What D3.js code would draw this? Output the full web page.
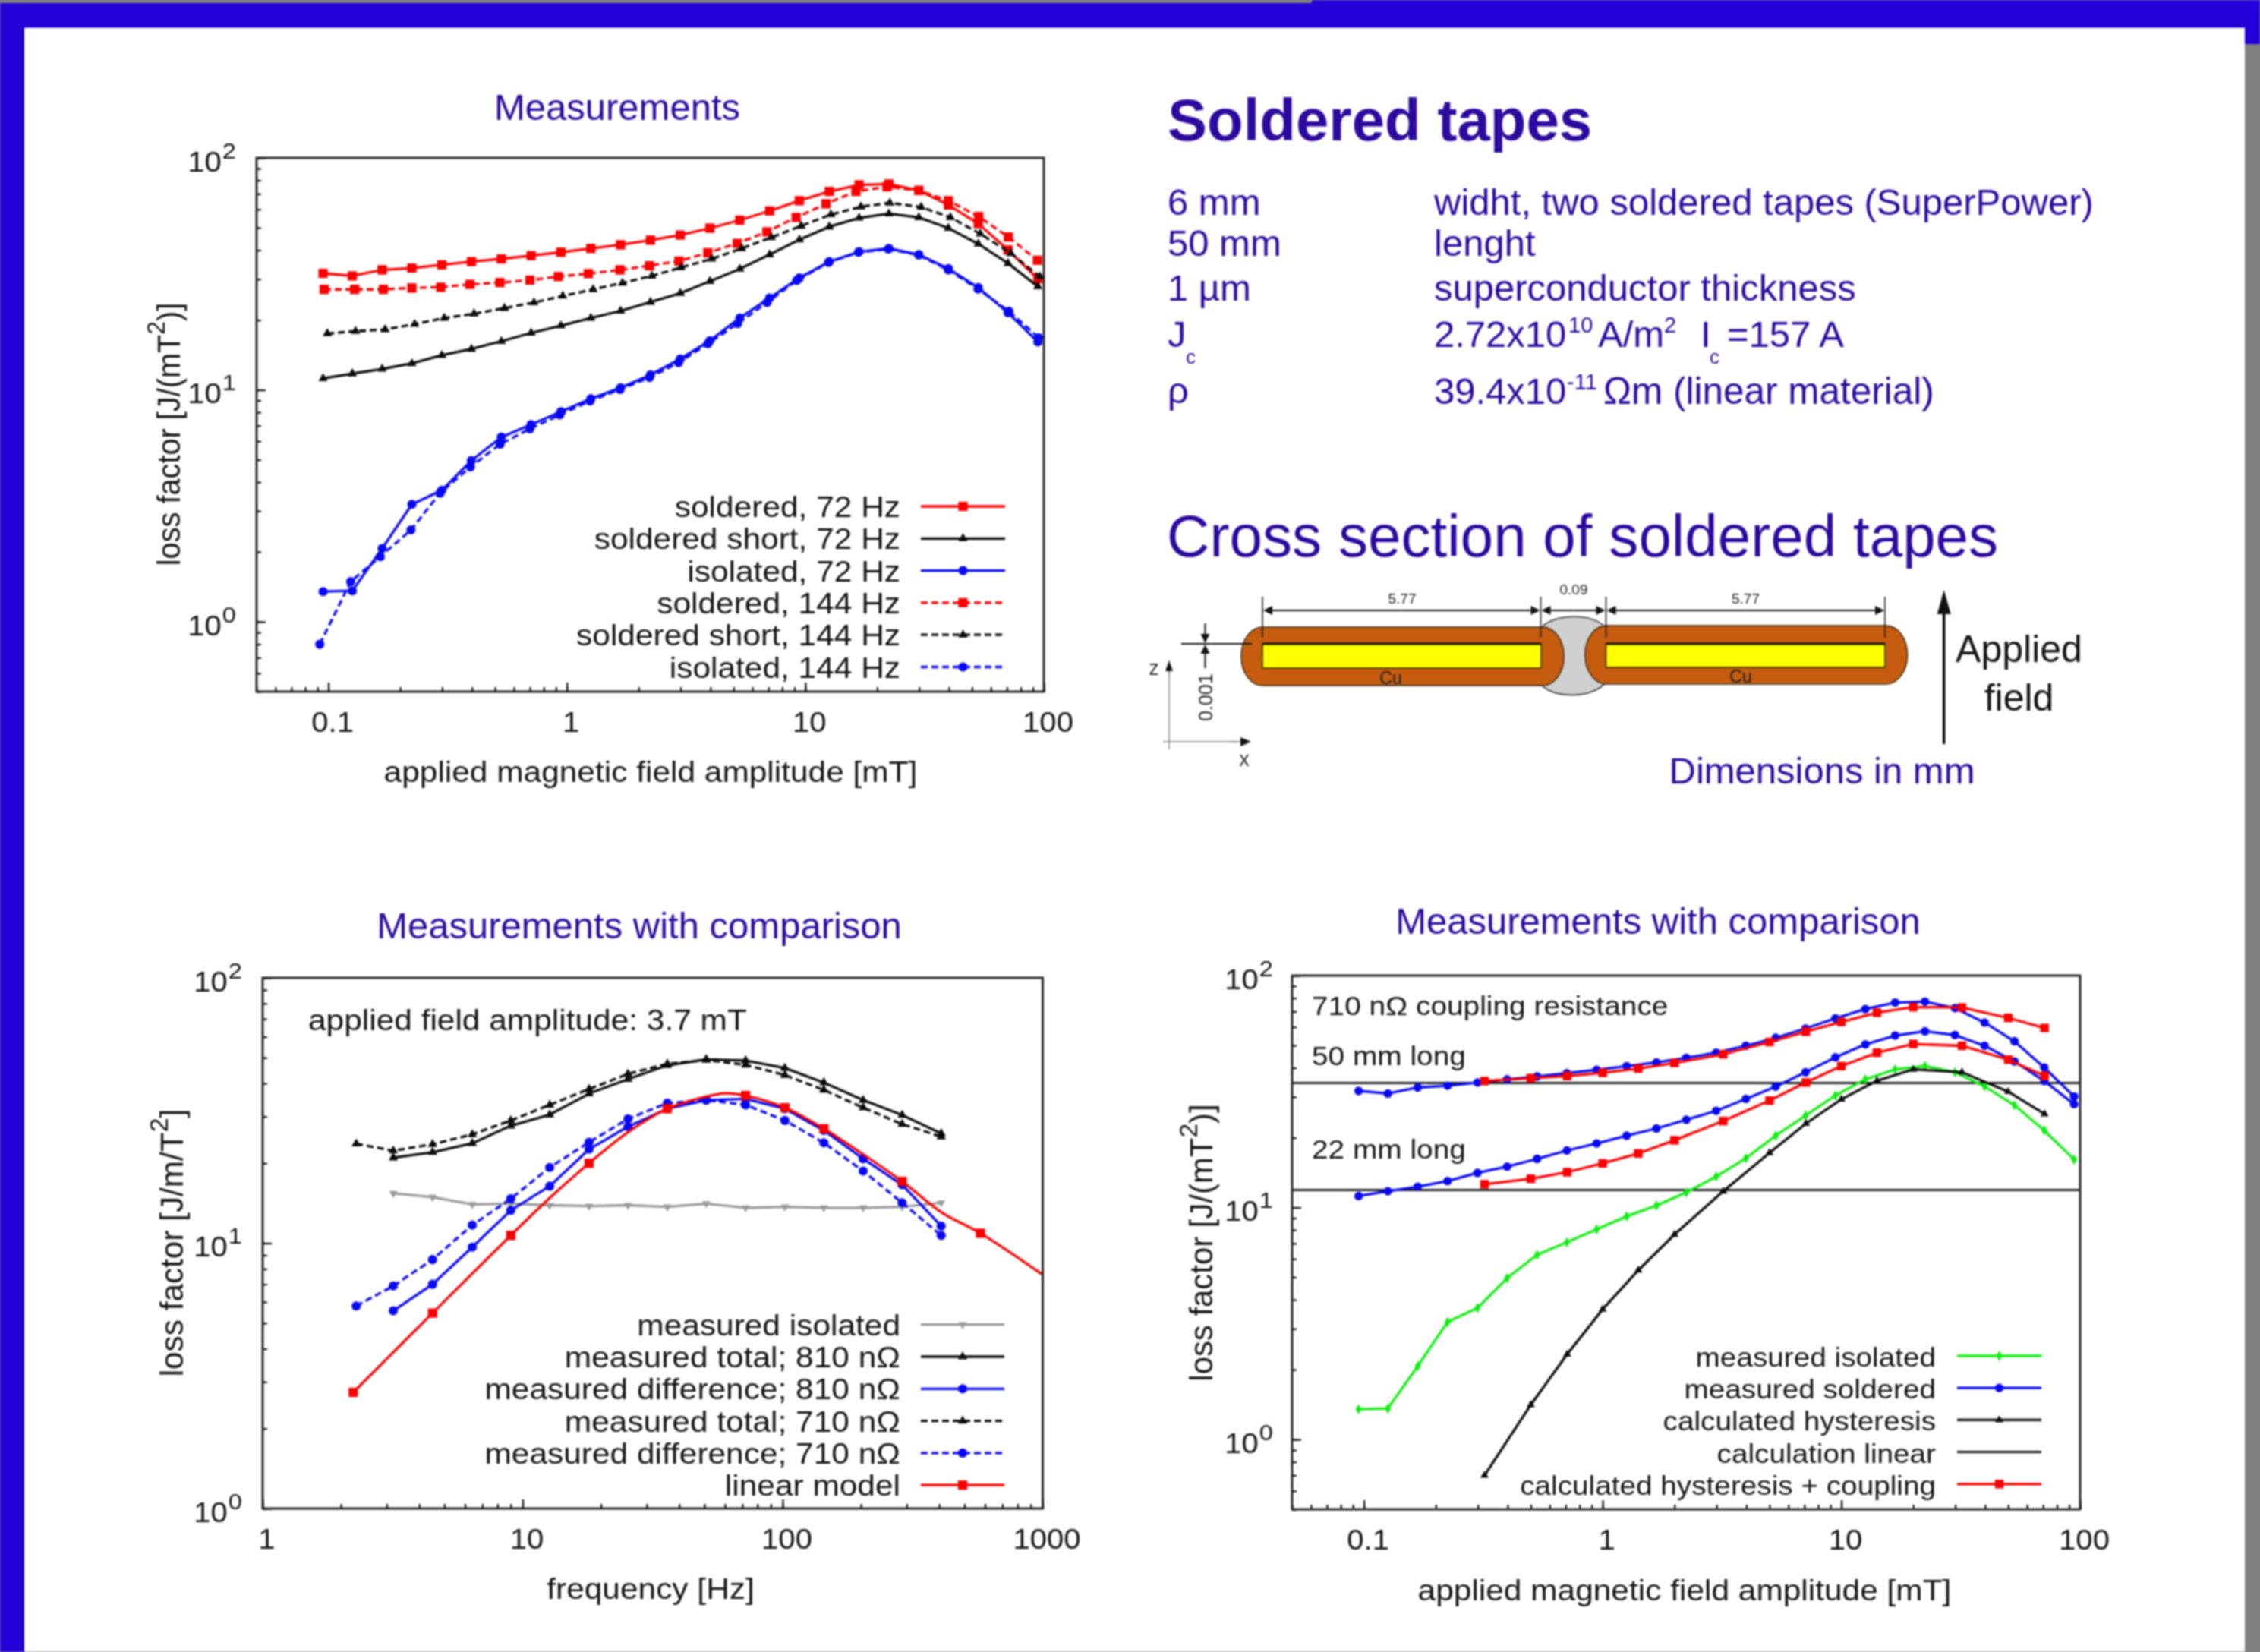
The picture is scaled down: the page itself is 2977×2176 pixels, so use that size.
<!DOCTYPE html>
<html>
<head>
<meta charset="utf-8">
<script src="https://cdn.jsdelivr.net/npm/d3@7"></script>
<style>
  html, body { margin: 0; padding: 0; background: #808080; overflow: hidden; }
  svg { display: block; filter: blur(1px); }
  text { font-family: "Liberation Sans", sans-serif; }
</style>
</head>
<body>
<script>
// field amplitude grids [mT], slightly different per measurement run
const fieldSolid = [0.095,0.126,0.168,0.224,0.299,0.398,0.531,0.708,0.944,1.26,1.68,2.24,2.99,3.98,5.31,7.08,9.44,12.6,16.8,22.4,29.9,39.8,53.1,70.8,94.4]
const fieldRed144 = [0.096,0.129,0.170,0.224,0.296,0.392,0.524,0.70,0.92,1.23,1.67,2.22,2.95,3.90,5.18,6.90,9.15,12.2,16.3,22.0,29.9,39.8,53.3,71,94]
const fieldBlack144 = [0.099,0.130,0.173,0.230,0.306,0.408,0.547,0.728,0.961,1.29,1.71,2.27,3.01,4.05,5.41,7.2,9.6,12.8,17.1,22.6,30.6,40.6,54.1,72.7,96]
const fieldBlue144 = [0.092,0.124,0.165,0.222,0.294,0.394,0.525,0.70,0.933,1.25,1.67,2.22,2.94,3.9,5.2,6.9,9.2,12.5,16.7,22.3,29.9,39.8,53,71.4,95]

const soldered72 = [31.8,31.0,32.9,33.5,34.6,35.7,36.7,37.9,39.2,40.7,42.2,44.2,46.5,49.8,53.9,59.1,65.4,71.7,76.5,77.2,72.4,62.7,52.1,40.1,30.1]
const soldered144 = [27.1,27.1,27.1,27.5,27.7,28.5,29.0,29.7,30.8,31.7,32.9,34.3,35.9,39.0,42.8,48.0,55.4,63.4,71.7,75.1,72.4,65.4,55.9,45.6,36.2]
const short72 = [11.2,11.75,12.3,13.0,14.1,15.0,16.2,17.6,18.9,20.4,21.9,23.9,26.1,29.4,33.2,38.3,44.4,50.5,55.1,57.5,55.4,49.8,42.6,35.1,27.9]
const short144 = [17.5,17.9,18.2,19.2,20.4,21.3,22.5,23.8,25.4,27.1,28.9,31.0,33.7,36.7,40.7,45.4,50.9,57.0,61.6,64.0,61.4,55.4,47.1,38.8,30.8]
const isolated72 = [1.35,1.36,2.07,3.21,3.69,4.96,6.25,7.08,8.05,9.16,10.2,11.6,13.6,16.3,20.4,24.9,30.4,35.7,39.4,40.7,38.3,33.3,27.6,21.5,16.1]
const isolated144 = [0.80,1.49,1.91,2.49,3.59,4.65,5.83,6.79,7.8,8.95,10.05,11.3,13.1,15.8,19.3,23.8,29.6,35.4,39.2,40.5,38.1,32.9,27.2,21.8,16.8]

// frequency sweep at 3.7 mT
const freq810 = [3.18,4.5,6.4,9.0,12.7,18,25.4,36,50.8,72,102,144,204,288,407]
const freq710 = [2.29,3.18,4.5,6.4,9.0,12.7,18,25.4,36,50.8,72,102,144,204,288,407]
const freqIsolatedLoss = [15.4,14.9,14.0,14.1,13.9,13.8,13.9,13.7,14.1,13.6,13.7,13.6,13.6,13.7,14.2]
const total810 = [21.0,22.0,23.8,27.7,30.5,36.6,41.5,46.8,49.3,48.8,45.7,40.3,34.6,30.4,25.9]
const diff810 = [5.56,7.0,9.66,13.3,16.4,22.6,27.5,32.1,34.6,35.0,32.1,26.6,20.8,16.6,11.6]
const total710 = [23.7,22.3,23.6,25.7,29.0,33.2,38.1,43.4,47.4,49.0,47.0,43.0,37.8,32.4,28.1,25.2]
const diff710 = [5.8,6.9,8.67,11.7,14.7,19.3,24.0,29.4,33.7,34.6,33.2,29.0,23.9,18.7,14.2,10.7]
const modelFreq = [2.23,4.5,9.0,12.7,18,25.4,36,50.8,60,72,102,144,204,288,407,576,1000]
const modelLoss = [2.74,5.45,10.7,14.8,20.0,26.2,32.1,35.7,36.7,36.0,32.4,27.0,21.6,17.1,13.1,10.9,7.6]
const modelMarks = [2.23,4.5,9.0,18,36,72,102,144,288,576]

// calculations vs field amplitude
const calcField = [0.32,0.5,0.71,1,1.41,2,3.2,5,7.1,10,14.1,20,32,50,71]
const calcHyst = [0.70,1.41,2.33,3.64,5.36,7.65,11.75,17.2,23.0,29.3,35.2,39.4,38.3,31.6,25.3]
const calcCoupling50 = [35.1,36.1,36.9,38.1,39.7,42.0,45.8,51.7,57.3,63.1,69.2,73.1,72.8,65.7,59.4]
const calcCoupling22 = [12.6,13.3,14.2,15.5,17.1,19.5,23.6,28.9,34.6,40.7,46.5,50.7,49.8,43.4,36.9]
const linearLevels = [34.4, 11.9]

const fieldTicks = [0.1, 1, 10, 100]
const freqTicks = [1, 10, 100, 1000]
const lossTicks = [1, 10, 100]

const specLeft = ["6 mm", "50 mm", "1 µm"]
const specRight = ["widht, two soldered tapes (SuperPower)", "lenght", "superconductor thickness"]

const width = 2977, height = 2176
const INK = "#141414", TITLE = "#2c0a9e", FRAME = "#2300d6"
const SX = 1.088 // the plot images were pasted stretched sideways

const svg = d3.select("body").append("svg").attr("width", width).attr("height", height)

// slide background
svg.append("rect").attr("width", width).attr("height", height).attr("fill", "#808080")
svg.append("rect").attr("width", 2957).attr("height", height).attr("fill", "#fff")
svg.append("rect").attr("width", 32).attr("height", height).attr("fill", FRAME)
svg.append("rect").attr("width", width).attr("height", 36.5).attr("fill", FRAME)
svg.append("rect").attr("x", 2957).attr("width", 20).attr("height", 58).attr("fill", FRAME)
svg.append("rect").attr("width", 1728).attr("height", 4).attr("fill", "#808080")

function label(x, y, str, size, opts = {}) {
    const t = svg.append("text")
        .attr("font-size", size)
        .attr("fill", opts.fill || TITLE)
        .attr("font-weight", opts.weight || null)
        .attr("font-family", opts.family || null)
        .attr("text-anchor", opts.anchor || "start")
        .text(str)
    if (opts.sx) t.attr("transform", `translate(${x},${y}) scale(${opts.sx},1)`)
    else t.attr("x", x).attr("y", y)
    return t
}

const symbols = {
    square: d3.symbol().type(d3.symbolSquare),
    triangle: d3.symbol().type(d3.symbolTriangle),
    circle: d3.symbol().type(d3.symbolCircle),
    diamond: d3.symbol().type(d3.symbolDiamond)
}

function mark(sel, s) {
    return sel.append("path")
        .attr("d", symbols[s.symbol].size(s.size)())
        .attr("fill", s.color)
}

function drawPanel(p) {
    const x = d3.scaleLog().domain(p.xDomain).range([p.left, p.right])
    const y = d3.scaleLog().domain(p.yDomain).range([p.bottom, p.top])
    const g = svg.append("g")

    // minor ticks first, then the labelled ones
    g.append("g").attr("transform", `translate(0,${p.bottom})`)
        .call(d3.axisBottom(x).tickValues(x.ticks()).tickSize(-6).tickFormat(""))
        .call(a => a.select(".domain").remove())
    g.append("g").attr("transform", `translate(${p.left},0)`)
        .call(d3.axisLeft(y).tickValues(y.ticks()).tickSize(-6).tickFormat(""))
        .call(a => a.select(".domain").remove())

    const gx = g.append("g").attr("transform", `translate(0,${p.bottom})`)
        .call(d3.axisBottom(x).tickValues(p.xTicks).tickSize(-12).tickPadding(p.xPad).tickFormat(d => String(d)))
    const gy = g.append("g").attr("transform", `translate(${p.left},0)`)
        .call(d3.axisLeft(y).tickValues(lossTicks).tickSize(-12).tickPadding(p.yPad / SX).tickFormat(""))
    gx.select(".domain").remove()
    gy.select(".domain").remove()
    gx.selectAll("text").attr("font-size", 36.8).attr("fill", INK)
        .attr("x", 5 / SX).attr("transform", `scale(${SX},1)`)
    gy.selectAll("text").attr("font-size", 36.8).attr("fill", INK).attr("dy", "0.47em")
        .attr("transform", `scale(${SX},1)`)
        .each(function(d) {
            const t = d3.select(this)
            t.append("tspan").text("10")
            t.append("tspan").attr("dy", -17).attr("dx", 1).attr("font-size", 30).text(Math.round(Math.log10(d)))
        })
    g.selectAll(".tick line").attr("stroke", "#111").attr("stroke-width", 2.2)

    const line = d3.line().x(d => x(d[0])).y(d => y(d[1]))

    if (p.levels) p.levels.forEach(v => {
        g.append("line").attr("x1", p.left).attr("x2", p.right)
            .attr("y1", y(v)).attr("y2", y(v))
            .attr("stroke", "#222").attr("stroke-width", 3)
    })

    p.series.forEach(s => {
        const pts = d3.zip(s.x, s.y)
        g.append("path").datum(pts)
            .attr("fill", "none")
            .attr("stroke", s.color)
            .attr("stroke-width", s.width || 3.3)
            .attr("stroke-dasharray", s.dash ? "9,5" : null)
            .attr("d", s.smooth ? line.curve(d3.curveCatmullRom)(pts) : line.curve(d3.curveLinear)(pts))
        const shown = s.marks ? pts.filter(d => s.marks.includes(d[0])) : pts
        if (s.symbol) shown.forEach(d => {
            mark(g, s).attr("transform", `translate(${x(d[0])},${y(d[1])})${s.flip ? " rotate(180)" : ""}`)
        })
    })

    // frame on top of the curves
    g.append("rect").attr("x", p.left).attr("y", p.top)
        .attr("width", p.right - p.left).attr("height", p.bottom - p.top)
        .attr("fill", "none").attr("stroke", "#1a1a1a").attr("stroke-width", 2.8)

    // legend
    p.legend.forEach((l, i) => {
        const by = p.legendTop + i * p.legendStep
        label(p.legendRight, by, l.name, p.legendSize, { anchor: "end", fill: INK, sx: SX })
        const ly = by - 14
        if (l.series) {
            const s = l.series
            g.append("line").attr("x1", p.sample[0]).attr("x2", p.sample[1]).attr("y1", ly).attr("y2", ly)
                .attr("stroke", s.color).attr("stroke-width", s.width || 3.3)
                .attr("stroke-dasharray", s.dash ? "9,5" : null)
            if (s.symbol) mark(g, s).attr("transform",
                `translate(${(p.sample[0] + p.sample[1]) / 2},${ly})${s.flip ? " rotate(180)" : ""}`)
        } else {
            g.append("line").attr("x1", p.sample[0]).attr("x2", p.sample[1]).attr("y1", ly).attr("y2", ly)
                .attr("stroke", "#111").attr("stroke-width", 3)
        }
    })

    // axis labels and title
    label(p.xLabel[0], p.xLabel[1], p.xLabel[2], 39, { anchor: "middle", fill: INK, sx: SX })
    const yl = svg.append("text")
        .attr("transform", `translate(${p.yLabel[0]},${p.yLabel[1]}) rotate(-90) scale(${p.yLabel[4]},1)`)
        .attr("text-anchor", "middle").attr("font-size", 42.4).attr("fill", INK)
    yl.append("tspan").text(p.yLabel[2])
    yl.append("tspan").attr("dy", -20).attr("font-size", 34).text("2")
    yl.append("tspan").attr("dy", 20).text(p.yLabel[3])
    label(p.title[0], p.title[1], p.title[2], 49, { anchor: "middle" })
}

// colours per plot style
const RED = "#f80000", BLUE = "#0808f0", BLACK = "#0a0a0a", GREEN = "#10ee10", GREY = "#9a9a9a"
const square = { symbol: "square", size: 150 }
const tri = { symbol: "triangle", size: 65 }
const dot = { symbol: "circle", size: 115 }

const s1 = [
    { ...square, color: RED, x: fieldSolid, y: soldered72 },
    { ...tri, color: BLACK, x: fieldSolid, y: short72 },
    { ...dot, color: BLUE, x: fieldSolid, y: isolated72 },
    { ...square, color: RED, dash: true, x: fieldRed144, y: soldered144 },
    { ...tri, color: BLACK, dash: true, x: fieldBlack144, y: short144 },
    { ...dot, color: BLUE, dash: true, x: fieldBlue144, y: isolated144 }
]
drawPanel({
    left: 338, right: 1375, top: 208, bottom: 911,
    xDomain: [0.05, 100], yDomain: [0.5, 100], xTicks: fieldTicks, xPad: 27, yPad: 27,
    series: s1,
    legend: ["soldered, 72 Hz", "soldered short, 72 Hz", "isolated, 72 Hz", "soldered, 144 Hz", "soldered short, 144 Hz", "isolated, 144 Hz"]
        .map((name, i) => ({ name, series: s1[i] })),
    legendTop: 681, legendStep: 42.3, legendRight: 1186, legendSize: 39, sample: [1213, 1324],
    xLabel: [857, 1030, "applied magnetic field amplitude [mT]"],
    yLabel: [237, 572, "loss factor [J/(mT", ")]", 0.937],
    title: [813, 158, "Measurements"]
})

const s3 = [
    { symbol: "triangle", size: 50, flip: true, color: GREY, x: freq810, y: freqIsolatedLoss },
    { ...tri, color: BLACK, x: freq810, y: total810 },
    { ...dot, color: BLUE, x: freq810, y: diff810 },
    { ...tri, color: BLACK, dash: true, x: freq710, y: total710 },
    { ...dot, color: BLUE, dash: true, x: freq710, y: diff710 },
    { ...square, color: RED, smooth: true, x: modelFreq, y: modelLoss, marks: modelMarks }
]
drawPanel({
    left: 346, right: 1373.5, top: 1288, bottom: 1987,
    xDomain: [1, 1000], yDomain: [1, 100], xTicks: freqTicks, xPad: 27, yPad: 27,
    series: s3,
    legend: ["measured isolated", "measured total; 810 nΩ", "measured difference; 810 nΩ", "measured total; 710 nΩ", "measured difference; 710 nΩ", "linear model"]
        .map((name, i) => ({ name, series: s3[i] })),
    legendTop: 1758.7, legendStep: 42.3, legendRight: 1186, legendSize: 39, sample: [1213, 1323],
    xLabel: [857, 2106, "frequency [Hz]"],
    yLabel: [241, 1637, "loss factor [J/m/T", "]", 0.998],
    title: [842, 1236, "Measurements with comparison"]
})
label(406, 1357, "applied field amplitude: 3.7 mT", 39, { fill: INK, sx: SX })

const s4 = [
    { symbol: "diamond", size: 55, color: GREEN, x: fieldSolid, y: isolated72 },
    { ...dot, size: 100, color: BLUE, x: fieldSolid, y: soldered72 },
    { ...tri, size: 50, color: BLACK, x: calcField, y: calcHyst },
    null,
    { ...square, size: 130, color: RED, x: calcField, y: calcCoupling50 }
]
drawPanel({
    left: 1702, right: 2740, top: 1285, bottom: 1988,
    xDomain: [0.05, 100], yDomain: [0.5, 100], xTicks: fieldTicks, xPad: 27, yPad: 25,
    levels: linearLevels,
    series: [s4[0], s4[1], { ...dot, size: 100, color: BLUE, x: fieldSolid, y: short72 }, s4[2], s4[4],
        { ...square, size: 130, color: RED, x: calcField, y: calcCoupling22 }],
    legend: ["measured isolated", "measured soldered", "calculated hysteresis", "calculation linear", "calculated hysteresis + coupling"]
        .map((name, i) => ({ name, series: s4[i] })),
    legendTop: 1800, legendStep: 42.2, legendRight: 2550, legendSize: 35.6, sample: [2578, 2689],
    xLabel: [2219, 2108, "applied magnetic field amplitude [mT]"],
    yLabel: [1597, 1637, "loss factor [J/(mT", ")]", 0.988],
    title: [2184, 1230, "Measurements with comparison"]
})
label(1728, 1337, "710 nΩ coupling resistance", 35.7, { fill: INK, sx: SX })
label(1728, 1403, "50 mm long", 35.7, { fill: INK, sx: SX })
label(1728, 1526, "22 mm long", 35.7, { fill: INK, sx: SX })

/* text block, top right */
label(1538, 185, "Soldered tapes", 78, { weight: "bold" })
specLeft.forEach((t, i) => label(1538, [283, 337, 396][i], t, 49))
specRight.forEach((t, i) => label(1889, [283, 337, 396][i], t, 49))

label(1538, 457, "J", 49)
label(1562, 479, "c", 26)
label(1889, 457, "2.72x10", 49)
label(2066, 438, "10", 29)
label(2105, 457, "A/m", 49)
label(2192, 438, "2", 29)
label(2240, 457, "I", 49)
label(2252, 479, "c", 26)
label(2275, 457, "=157 A", 49)

label(1538, 531, "ρ", 49, { family: "Noto Sans" })
label(1889, 532, "39.4x10", 49)
label(2064, 513, "-11", 29)
label(2112, 532, "Ωm (linear material)", 49.5, { family: "Noto Sans" })

label(1537, 733, "Cross section of soldered tapes", 78.2)
label(2198.5, 1032, "Dimensions in mm", 49)

/* cross section sketch */
const sketch = svg.append("g")

function arrow(x1, y1, x2, y2, len = 12, wide = 6, color = "#111", sw = 2) {
    const a = Math.atan2(y2 - y1, x2 - x1), c = Math.cos(a), s = Math.sin(a)
    sketch.append("line").attr("x1", x1).attr("y1", y1).attr("x2", x2 - c * len * 0.7).attr("y2", y2 - s * len * 0.7)
        .attr("stroke", color).attr("stroke-width", sw)
    sketch.append("path").attr("fill", "#111").attr("d",
        `M${x2},${y2}L${x2 - c * len - s * wide},${y2 - s * len + c * wide}L${x2 - c * len + s * wide},${y2 - s * len - c * wide}Z`)
}
function stroke(x1, y1, x2, y2, sw = 1.6, color = "#222") {
    sketch.append("line").attr("x1", x1).attr("y1", y1).attr("x2", x2).attr("y2", y2)
        .attr("stroke", color).attr("stroke-width", sw)
}

sketch.append("path")
    .attr("d", "M2029,828C2044,808 2100,806 2116,828L2116,898C2100,920 2044,922 2029,900Z")
    .attr("fill", "#cfcfcf").attr("stroke", "#333").attr("stroke-width", 1.5)

;[[1635, 826, 425, 77], [2088, 824, 424.5, 77]].forEach(r => {
    sketch.append("rect").attr("x", r[0]).attr("y", r[1]).attr("width", r[2]).attr("height", r[3])
        .attr("rx", 28).attr("ry", 38)
        .attr("fill", "#c55c10").attr("stroke", "#3a2a10").attr("stroke-width", 1.5)
})
;[[1663, 848, 367, 32], [2115.5, 848, 367.5, 31]].forEach(r => {
    sketch.append("rect").attr("x", r[0]).attr("y", r[1]).attr("width", r[2]).attr("height", r[3])
        .attr("fill", "#ffff00").attr("stroke", "#4d4000").attr("stroke-width", 1.8)
    stroke(r[0], r[1], r[0] + r[2], r[1], 3, "#111")
})

;[1663, 2029.5, 2115.5, 2483].forEach(v => stroke(v, 786, v, 840))
;[[1663, 2029.5], [2029.5, 2115.5], [2115.5, 2483]].forEach(d => {
    arrow((d[0] + d[1]) / 2, 804, d[0] + 1, 804)
    arrow((d[0] + d[1]) / 2, 804, d[1] - 1, 804)
})
label(1847, 795, "5.77", 19, { fill: "#222", anchor: "middle" })
label(2299.5, 795, "5.77", 19, { fill: "#222", anchor: "middle" })
label(2073, 783, "0.09", 19, { fill: "#222", anchor: "middle" })
label(1832, 901, "Cu", 23, { fill: "#222", anchor: "middle" })
label(2293, 899, "Cu", 23, { fill: "#222", anchor: "middle" })

stroke(1556, 848, 1649, 848, 2, "#111")
arrow(1587.5, 821, 1587.5, 847)
arrow(1587.5, 880, 1587.5, 849)
svg.append("text").attr("transform", "translate(1597,950) rotate(-90)")
    .attr("font-size", 25).attr("font-family", "DejaVu Sans").attr("fill", "#222").text("0.001")

stroke(1540, 870, 1540, 987, 1.5, "#888")
arrow(1540, 890, 1540, 870, 14, 5, "#888", 1.5)
stroke(1532, 977, 1630, 977, 1.5, "#888")
arrow(1620, 977, 1648, 977, 14, 6, "#888", 1.5)
label(1520, 889, "z", 27, { fill: "#333", anchor: "middle" })
label(1639, 1009, "x", 27, { fill: "#333", anchor: "middle" })

arrow(2560.7, 980, 2560.7, 777, 32, 9, "#000", 3.4)
label(2659.5, 872, "Applied", 50, { fill: INK, anchor: "middle", family: "Lato" })
label(2659.5, 936, "field", 50, { fill: INK, anchor: "middle", family: "Lato" })
</script>
</body>
</html>
